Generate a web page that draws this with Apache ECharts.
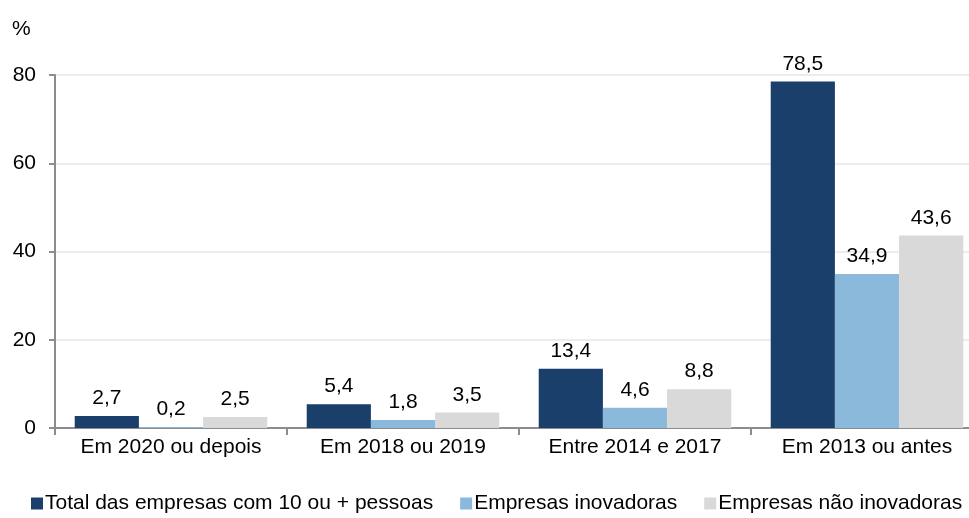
<!DOCTYPE html>
<html>
<head>
<meta charset="utf-8">
<script src="https://cdn.jsdelivr.net/npm/echarts@6/dist/echarts.min.js"></script>
<style>
    html, body { margin: 0; padding: 0; background: #fff; }
    #chart { width: 969px; height: 518px; }
</style>
</head>
<body>
<div id="chart"></div>
<script>
    // 数据
    const categories = ['Em 2020 ou depois', 'Em 2018 ou 2019', 'Entre 2014 e 2017', 'Em 2013 ou antes'];
    const seriesNames = ['Total das empresas com 10 ou + pessoas', 'Empresas inovadoras', 'Empresas não inovadoras'];
    const totalValues = [2.7, 5.4, 13.4, 78.5];
    const inovValues = [0.2, 1.8, 4.6, 34.9];
    const naoInovValues = [2.5, 3.5, 8.8, 43.6];
    const colors = ['#1a3f6b', '#8ab9db', '#d9d9d9'];

    const font = 'Liberation Sans, Arial, sans-serif';
    const chart = echarts.init(document.getElementById('chart'));

    function makeSeries(name, data, color) {
        return {
            name: name,
            type: 'bar',
            data: data,
            barGap: '0%',
            barCategoryGap: '17%',
            itemStyle: { color: color },
            label: {
                show: true,
                position: 'top',
                distance: 7,
                color: '#000',
                fontSize: 21,
                fontFamily: font,
                formatter: p => String(p.value).replace('.', ',')
            }
        };
    }

    chart.setOption({
        animation: false,
        textStyle: { fontFamily: font },
        graphic: [{
            type: 'text',
            left: 12,
            top: 19,
            style: { text: '%', fontSize: 21, fontFamily: font, fill: '#000' }
        }],
        grid: {
            left: 55,
            top: 75,
            width: 928,
            height: 353,
            outerBoundsMode: 'none',
            containLabel: false
        },
        legend: {
            left: 26,
            top: 488,
            itemWidth: 12,
            itemHeight: 12,
            itemGap: 27,
            icon: 'rect',
            textStyle: { fontSize: 21, color: '#000', fontFamily: font, padding: [0, 0, 0, -3] },
            data: seriesNames
        },
        xAxis: {
            type: 'category',
            data: categories,
            axisLine: { lineStyle: { color: '#8c8c8c', width: 2 } },
            axisTick: { show: true, interval: 0, length: 7, lineStyle: { color: '#8c8c8c', width: 2 } },
            axisLabel: { interval: 0, color: '#000', fontSize: 21, fontFamily: font, margin: 9 }
        },
        yAxis: {
            type: 'value',
            min: 0,
            max: 80,
            interval: 20,
            axisLine: { show: true, lineStyle: { color: '#8c8c8c', width: 2 } },
            axisTick: { show: true, length: 6, lineStyle: { color: '#8c8c8c', width: 2 } },
            axisLabel: { color: '#000', fontSize: 21, fontFamily: font, margin: 19 },
            splitLine: { lineStyle: { color: '#ececec', width: 2 } }
        },
        series: [
            makeSeries(seriesNames[0], totalValues, colors[0]),
            makeSeries(seriesNames[1], inovValues, colors[1]),
            makeSeries(seriesNames[2], naoInovValues, colors[2])
        ]
    });
</script>
</body>
</html>
